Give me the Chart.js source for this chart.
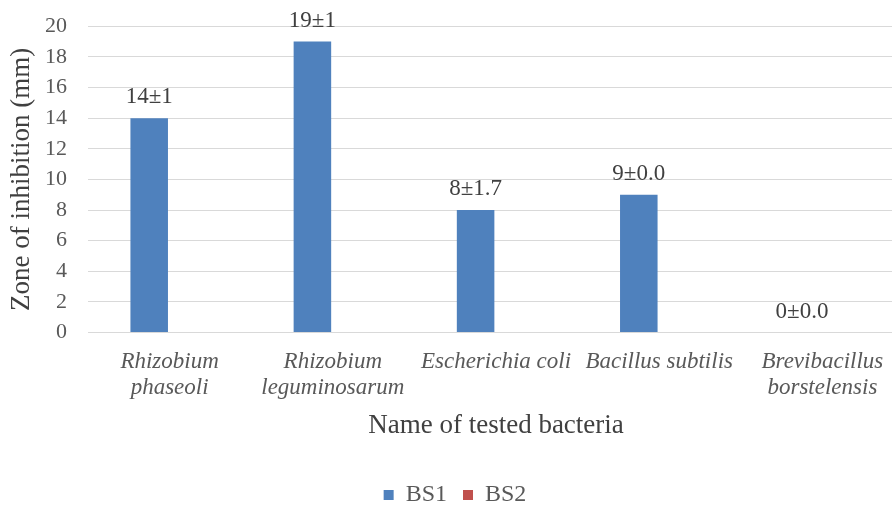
<!DOCTYPE html>
<html>
<head>
<meta charset="utf-8">
<script src="https://cdn.jsdelivr.net/npm/chart.js@4/dist/chart.umd.min.js"></script>
<style>
html,body{margin:0;padding:0;background:#fff;overflow:hidden;width:892px;height:506px;}
#wrap{position:relative;width:892px;height:506px;overflow:hidden;}
#c{position:absolute;left:0;top:-8px;}
</style>
</head>
<body>
<div id="wrap"><canvas id="c" width="904" height="514"></canvas></div>
<script>
const categories = [
  ["Rhizobium", "phaseoli"],
  ["Rhizobium", "leguminosarum"],
  "Escherichia coli",
  "Bacillus subtilis",
  ["Brevibacillus", "borstelensis"]
];
const bs1Values = [14, 19, 8, 9, 0];
const bs1Errors = ["1", "1", "1.7", "0.0", "0.0"];
const bs2Values = [0, 0, 0, 0, 0];
const yTicks = [0, 2, 4, 6, 8, 10, 12, 14, 16, 18, 20];

const SERIF = '"Liberation Serif", "Times New Roman", serif';

const labelPlugin = {
  id: 'valueLabels',
  afterDatasetsDraw(chart) {
    const ctx = chart.ctx;
    const meta = chart.getDatasetMeta(0);
    ctx.save();
    ctx.font = '23px ' + SERIF;
    ctx.fillStyle = '#404040';
    ctx.textAlign = 'center';
    ctx.textBaseline = 'alphabetic';
    meta.data.forEach((bar, i) => {
      ctx.fillText(bs1Values[i] + '\u00b1' + bs1Errors[i], bar.x, bar.y - 15);
    });
    ctx.restore();
  }
};

new Chart(document.getElementById('c'), {
  type: 'bar',
  data: {
    labels: categories,
    datasets: [
      { label: 'BS1', data: bs1Values, backgroundColor: '#4F81BD', barPercentage: 0.92, categoryPercentage: 0.5 },
      { label: 'BS2', data: bs2Values, backgroundColor: '#C0504D', barPercentage: 0.92, categoryPercentage: 0.5 }
    ]
  },
  options: {
    responsive: false,
    animation: false,
    layout: { padding: { top: 0, left: 6, right: 0, bottom: -11 } },
    plugins: {
      tooltip: { enabled: false },
      legend: {
        position: 'bottom',
        labels: {
          usePointStyle: true,
          pointStyle: 'rect',
          boxWidth: 10,
          boxHeight: 10,
          padding: 16,
          color: '#595959',
          font: { family: SERIF, size: 24 }
        }
      }
    },
    scales: {
      x: {
        grid: { display: false },
        border: { display: true, color: '#d9d9d9' },
        ticks: {
          color: '#595959',
          maxRotation: 0,
          autoSkip: false,
          padding: 8,
          font: { family: SERIF, size: 23, style: 'italic', lineHeight: 1.13 }
        },
        title: {
          display: true,
          text: 'Name of tested bacteria',
          color: '#404040',
          padding: { top: 1, bottom: 25 },
          font: { family: SERIF, size: 27 }
        }
      },
      y: {
        min: 0,
        max: 20,
        afterBuildTicks(scale) { scale.ticks = yTicks.map(v => ({ value: v })); },
        afterFit(scale) { scale.width = 82; },
        grid: { color: '#d9d9d9', lineWidth: 1, drawTicks: false },
        border: { display: false },
        ticks: {
          color: '#595959',
          padding: 21,
          autoSkip: false,
          font: { family: SERIF, size: 22 }
        },
        title: {
          display: true,
          text: 'Zone of inhibition (mm)',
          color: '#404040',
          padding: { top: 0, bottom: 6 },
          font: { family: SERIF, size: 27 }
        }
      }
    }
  },
  plugins: [labelPlugin]
});
</script>
</body>
</html>
